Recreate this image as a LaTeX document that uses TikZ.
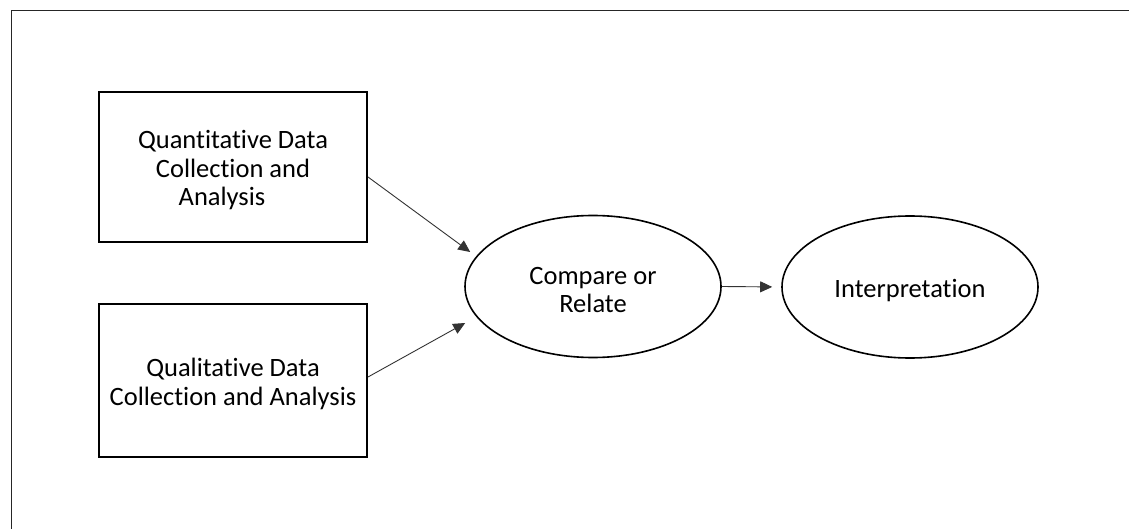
\documentclass[tikz,border=0pt]{standalone}
\usepackage{fontspec}
\setmainfont[Ligatures=NoCommon]{Carlito}
\usetikzlibrary{shapes.geometric,arrows.meta,calc}
\begin{document}
\begin{tikzpicture}[x=1pt,y=-1pt,
  txt/.style={font=\fontsize{26.5}{28.5}\selectfont, align=center, inner sep=0pt, yshift=-3.5pt},
  box/.style={draw, line width=2pt, minimum width=268pt, inner sep=0pt},
  oval/.style={draw, ellipse, line width=1.6pt, minimum width=256pt, minimum height=142pt, inner sep=0pt},
  arr/.style={draw=black!80, line width=0.9pt, -{Triangle[length=12pt,width=11pt]}},
  frame/.style={line width=1.8pt, draw=black!85}]
\useasboundingbox (0,0) rectangle (1129,529);
\coordinate (ftop) at (1129,10.5);
\coordinate (fcorner) at (11.5,10.5);
\coordinate (fbot) at (11.5,529);
\draw[frame] (ftop) -- (fcorner) -- (fbot);
\node[box, minimum height=150pt, label={[txt]center:{Quantitative Data\\Collection and\\Analysis\hspace*{22pt}}}] (q) at (233,167) {};
\node[box, minimum height=153pt, label={[txt]center:{Qualitative Data\\Collection and Analysis}}] (ql) at (233,380.5) {};
\node[oval, label={[txt]center:{Compare or\\Relate}}] (c) at (593,286.5) {};
\node[oval, label={[txt]center:{Interpretation}}] (i) at (910,287) {};
\draw[arr] ($(q.east)+(0,10)$) -- ($(c.west)+(6,-34.5)$);
\draw[arr] ($(ql.east)+(0,-3.5)$) -- ($(c.west)+(1,36.5)$);
\draw[arr, shorten >=9pt] (c.east) -- (i.west);
\end{tikzpicture}
\end{document}
